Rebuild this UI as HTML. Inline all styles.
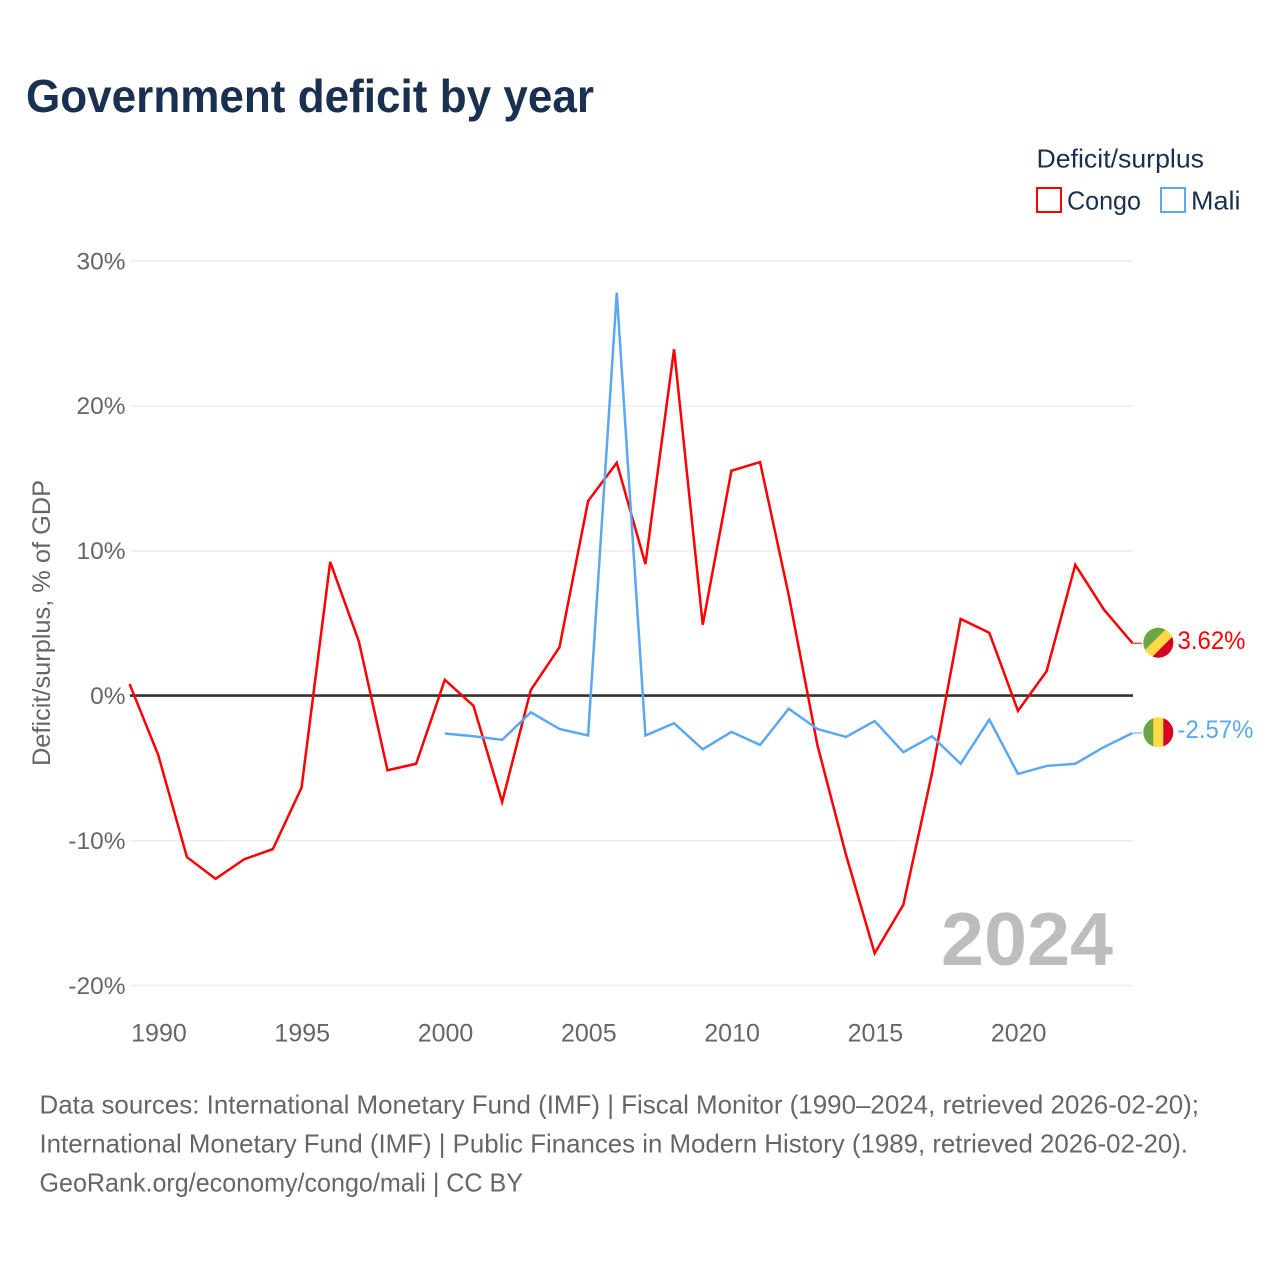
<!DOCTYPE html>
<html lang="en">
<head>
<meta charset="utf-8">
<title>Government deficit by year</title>
<style>
html,body{margin:0;padding:0;background:#fff;width:1280px;height:1280px;overflow:hidden}
svg{display:block;font-family:"Liberation Sans",Arial,sans-serif}
</style>
</head>
<body>
<svg id="chart" width="1280" height="1280" viewBox="0 0 1280 1280" xmlns="http://www.w3.org/2000/svg">
  <defs>
    <clipPath id="clip-congo"><circle cx="1158.3" cy="642.7" r="15"/></clipPath>
    <clipPath id="clip-mali"><circle cx="1158.3" cy="732.3" r="15"/></clipPath>
  </defs>
  <rect width="1280" height="1280" fill="#fff"/>
  <text x="26" y="112" font-size="46" font-weight="700" fill="#1a3050" textLength="568" lengthAdjust="spacingAndGlyphs">Government deficit by year</text>

  <g>
    <text x="1036.5" y="167.5" font-size="26" fill="#1a3050" textLength="167.5" lengthAdjust="spacingAndGlyphs">Deficit/surplus</text>
    <rect x="1037" y="188" width="24" height="24" fill="none" stroke="#ff0000" stroke-width="2"/>
    <text x="1067" y="209.5" font-size="26" fill="#1a3050" textLength="74" lengthAdjust="spacingAndGlyphs">Congo</text>
    <rect x="1161" y="188" width="24" height="24" fill="none" stroke="#5ba8f0" stroke-width="2"/>
    <text x="1191" y="209.5" font-size="26" fill="#1a3050" textLength="49.5" lengthAdjust="spacingAndGlyphs">Mali</text>
  </g>

  <g id="grid"></g>
  <g id="yticks"></g>
  <g id="xticks"></g>
  <text transform="translate(50,766) rotate(-90)" font-size="25" fill="#666" textLength="286" lengthAdjust="spacingAndGlyphs">Deficit/surplus, % of GDP</text>

  <text x="941" y="965" font-size="75" font-weight="700" fill="#bdbdbd" textLength="172" lengthAdjust="spacingAndGlyphs">2024</text>

  <line id="zero" stroke="#333" stroke-width="2.6"/>
  <path id="line-congo" fill="none" stroke="#ff0000" stroke-width="2.5" stroke-linejoin="miter"/>
  <path id="line-mali" fill="none" stroke="#5ba8f0" stroke-width="2.5" stroke-linejoin="miter"/>
  <line id="conn-congo" stroke="#ff0000" stroke-width="1.5" stroke-opacity="0.7"/>
  <line id="conn-mali" stroke="#5ba8f0" stroke-width="1.5" stroke-opacity="0.7"/>

  <g clip-path="url(#clip-congo)">
    <rect x="1143" y="627" width="31" height="31" fill="#6da544"/>
    <polygon points="1143,666 1178,631 1180,670" fill="#d80027"/>
    <polygon points="1135,660 1170,625 1178,631 1143,666" fill="#ffda44"/>
  </g>
  <g clip-path="url(#clip-mali)">
    <rect x="1143" y="717" width="11" height="31" fill="#6da544"/>
    <rect x="1153.3" y="717" width="10" height="31" fill="#ffda44"/>
    <rect x="1163.3" y="717" width="11" height="31" fill="#d80027"/>
  </g>
  <text x="1177.5" y="649" font-size="25" fill="#ff0000" textLength="68" lengthAdjust="spacingAndGlyphs">3.62%</text>
  <text x="1177.5" y="738" font-size="25" fill="#5ba8f0" textLength="76" lengthAdjust="spacingAndGlyphs">-2.57%</text>

  <g font-size="26" fill="#666">
    <text x="39.5" y="1113.5" textLength="1159.5" lengthAdjust="spacingAndGlyphs">Data sources: International Monetary Fund (IMF) | Fiscal Monitor (1990–2024, retrieved 2026-02-20);</text>
    <text x="39.5" y="1152.5" textLength="1148.5" lengthAdjust="spacingAndGlyphs">International Monetary Fund (IMF) | Public Finances in Modern History (1989, retrieved 2026-02-20).</text>
    <text x="39.5" y="1191.5" textLength="483.5" lengthAdjust="spacingAndGlyphs">GeoRank.org/economy/congo/mali | CC BY</text>
  </g>
</svg>
<script>
const yTickValues = [30, 20, 10, 0, -10, -20];
const xTickYears = [1990, 1995, 2000, 2005, 2010, 2015, 2020];
const congoStartYear = 1989;
const congoValues = [0.81, -4.09, -11.13, -12.63, -11.28, -10.58, -6.34, 9.24, 3.75, -5.14, -4.69, 1.10, -0.69, -7.33, 0.40, 3.35, 13.44, 16.08, 9.09, 23.92, 4.90, 15.53, 16.13, 6.95, -3.39, -10.98, -17.77, -14.42, -5.34, 5.30, 4.35, -1.04, 1.70, 9.04, 5.95, 3.62];
const maliStartYear = 2000;
const maliValues = [-2.6, -2.79, -3.04, -1.14, -2.29, -2.74, 27.82, -2.74, -1.89, -3.69, -2.49, -3.39, -0.89, -2.29, -2.84, -1.74, -3.89, -2.79, -4.69, -1.64, -5.39, -4.84, -4.69, -3.54, -2.57];

const NS = 'http://www.w3.org/2000/svg';
const xAxis = function (year) { return 129.6 + (year - 1989) * 28.657; };
const yAxis = function (v) { return 695.8 - v * 14.49; };
const linePath = function (start, vals) {
  return vals.map(function (v, i) {
    return (i ? 'L' : 'M') + xAxis(start + i).toFixed(2) + ' ' + yAxis(v).toFixed(2);
  }).join(' ');
};

const grid = document.getElementById('grid');
const yticks = document.getElementById('yticks');
const xticks = document.getElementById('xticks');

yTickValues.forEach(function (v) {
  if (v !== 0) {
    const gl = document.createElementNS(NS, 'line');
    
    
    gl.setAttribute('x1', 130);
    gl.setAttribute('x2', 1133);
    gl.setAttribute('y1', yAxis(v));
    gl.setAttribute('y2', yAxis(v));
    gl.setAttribute('stroke', '#eeeeee');
    gl.setAttribute('stroke-width', 1.6);
    grid.appendChild(gl);
  }
  const t = document.createElementNS(NS, 'text');
  
  
  t.setAttribute('x', 125.5);
  t.setAttribute('y', yAxis(v) + 8.2);
  t.setAttribute('text-anchor', 'end');
  t.setAttribute('font-size', 24.5);
  t.setAttribute('fill', '#666');
  t.textContent = v + '%';
  yticks.appendChild(t);
});

xTickYears.forEach(function (yr) {
  const t = document.createElementNS(NS, 'text');
  
  
  t.setAttribute('x', xAxis(yr) + 0.7);
  t.setAttribute('y', 1041.5);
  t.setAttribute('text-anchor', 'middle');
  t.setAttribute('font-size', 25);
  t.setAttribute('fill', '#666');
  t.textContent = yr;
  xticks.appendChild(t);
});

const zero = document.getElementById('zero');
zero.setAttribute('x1', 130);
zero.setAttribute('x2', 1133);
zero.setAttribute('y1', yAxis(0) - 0.2);
zero.setAttribute('y2', yAxis(0) - 0.2);

document.getElementById('line-congo').setAttribute('d', linePath(congoStartYear, congoValues));
document.getElementById('line-mali').setAttribute('d', linePath(maliStartYear, maliValues));

const connect = function (id, vals) {
  const c = document.getElementById(id);
  const y = yAxis(vals[vals.length - 1]);
  c.setAttribute('x1', 1133);
  c.setAttribute('x2', 1142);
  c.setAttribute('y1', y);
  c.setAttribute('y2', y);
};
connect('conn-congo', congoValues);
connect('conn-mali', maliValues);
</script>
</body>
</html>
